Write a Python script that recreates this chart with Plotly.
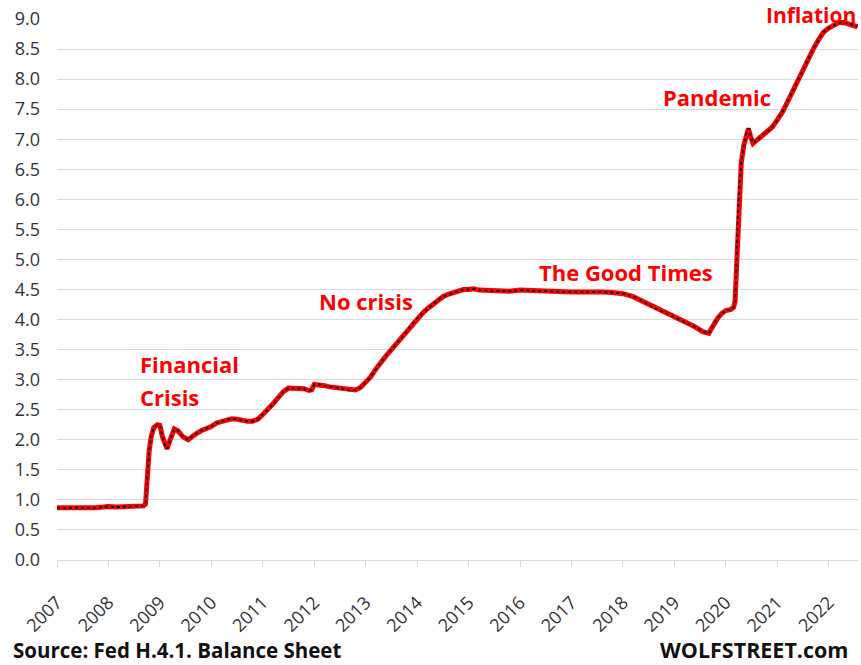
import plotly.graph_objects as go

# Fed balance sheet, trillion $
years = [
    2007.00, 2007.15, 2007.30, 2007.45, 2007.60, 2007.75, 2007.90, 2008.00, 2008.15, 2008.30,
    2008.45, 2008.60, 2008.68, 2008.72, 2008.74, 2008.76, 2008.79, 2008.83, 2008.88, 2008.95,
    2009.00, 2009.05, 2009.10, 2009.14, 2009.20, 2009.28, 2009.35, 2009.45, 2009.55, 2009.62,
    2009.70, 2009.80, 2009.90, 2010.00, 2010.10, 2010.20, 2010.30, 2010.40, 2010.50, 2010.60,
    2010.70, 2010.80, 2010.90, 2011.00, 2011.10, 2011.20, 2011.30, 2011.40, 2011.50, 2011.60,
    2011.70, 2011.80, 2011.90, 2011.95, 2012.00, 2012.10, 2012.20, 2012.30, 2012.40, 2012.50,
    2012.60, 2012.70, 2012.80, 2012.90, 2013.00, 2013.10, 2013.20, 2013.30, 2013.40, 2013.50,
    2013.60, 2013.70, 2013.80, 2013.90, 2014.00, 2014.10, 2014.20, 2014.30, 2014.40, 2014.50,
    2014.60, 2014.70, 2014.80, 2014.90, 2015.00, 2015.10, 2015.20, 2015.40, 2015.60, 2015.80,
    2016.00, 2016.20, 2016.40, 2016.60, 2016.80, 2017.00, 2017.20, 2017.40, 2017.60, 2017.80,
    2018.00, 2018.20, 2018.40, 2018.60, 2018.80, 2019.00, 2019.20, 2019.40, 2019.55, 2019.67,
    2019.72, 2019.78, 2019.85, 2019.92, 2020.00, 2020.10, 2020.15, 2020.18, 2020.20, 2020.22,
    2020.24, 2020.27, 2020.30, 2020.35, 2020.40, 2020.44, 2020.48, 2020.53, 2020.60, 2020.70,
    2020.80, 2020.90, 2021.00, 2021.10, 2021.20, 2021.30, 2021.40, 2021.50, 2021.60, 2021.70,
    2021.80, 2021.90, 2022.00, 2022.10, 2022.20, 2022.30, 2022.40, 2022.50, 2022.56,
]
balance = [
    0.87, 0.86, 0.87, 0.87, 0.86, 0.87, 0.88, 0.89, 0.88, 0.89,
    0.89, 0.90, 0.90, 0.93, 1.20, 1.50, 1.80, 2.05, 2.20, 2.25,
    2.24, 2.05, 1.90, 1.85, 2.00, 2.18, 2.15, 2.05, 2.00, 2.05,
    2.10, 2.15, 2.18, 2.22, 2.28, 2.30, 2.34, 2.35, 2.34, 2.32,
    2.31, 2.31, 2.34, 2.42, 2.50, 2.60, 2.70, 2.80, 2.86, 2.86,
    2.86, 2.85, 2.82, 2.83, 2.92, 2.92, 2.90, 2.88, 2.87, 2.86,
    2.84, 2.82, 2.83, 2.87, 2.95, 3.05, 3.18, 3.30, 3.40, 3.50,
    3.60, 3.70, 3.80, 3.92, 4.02, 4.10, 4.18, 4.25, 4.32, 4.38,
    4.42, 4.45, 4.48, 4.50, 4.50, 4.51, 4.49, 4.48, 4.48, 4.47,
    4.49, 4.48, 4.47, 4.47, 4.46, 4.46, 4.46, 4.47, 4.46, 4.45,
    4.43, 4.38, 4.30, 4.20, 4.12, 4.05, 3.97, 3.88, 3.80, 3.77,
    3.85, 3.95, 4.03, 4.10, 4.15, 4.17, 4.20, 4.30, 4.70, 5.30,
    5.85, 6.30, 6.60, 6.90, 7.10, 7.18, 7.05, 6.93, 6.98, 7.05,
    7.12, 7.20, 7.32, 7.45, 7.62, 7.80, 7.97, 8.15, 8.32, 8.50,
    8.65, 8.78, 8.85, 8.90, 8.94, 8.94, 8.92, 8.90, 8.87,
]

tick_years = list(range(2007, 2023))
tick_labels = [str(y) for y in tick_years]
y_ticks = [i * 0.5 for i in range(19)]

labels = ["Pandemic", "The Good Times", "No crisis", "Financial", "Crisis"]
label_x = [2018.74, 2016.33, 2012.05, 2008.57, 2008.57]
label_y = [7.70, 4.79, 4.31, 3.26, 2.71]

W, H = 861, 665
L, R, T, B = 57, 3, 19, 105
PW, PH = W - L - R, H - T - B


def px(xp):
    return (xp - L) / PW


def py(yp):
    return (H - B - yp) / PH


fig = go.Figure()
fig.add_trace(go.Scatter(x=years, y=balance, mode="lines",
                         line=dict(color="#ff0000", width=5), hoverinfo="skip",
                         showlegend=False))
fig.add_trace(go.Scatter(x=years, y=balance, mode="lines",
                         line=dict(color="#111111", width=2, dash="dot"),
                         showlegend=False))

red_font = dict(family="Open Sans", size=22, color="#ff0000")
for t, x, y in zip(labels, label_x, label_y):
    fig.add_annotation(x=x, y=y, xref="x", yref="y", text="<b>%s</b>" % t,
                       showarrow=False, xanchor="left", yanchor="middle",
                       font=red_font)
fig.add_annotation(x=px(764), y=py(15), xref="paper", yref="paper",
                   text="<b>Inflation</b>", showarrow=False,
                   xanchor="left", yanchor="middle",
                   font=dict(family="Open Sans", size=21, color="#ff0000"))

fig.add_annotation(x=px(11), y=py(650), xref="paper", yref="paper",
                   text="<b>Source: Fed H.4.1. Balance Sheet</b>", showarrow=False,
                   xanchor="left", yanchor="middle",
                   font=dict(family="Open Sans", size=20.5, color="#111111"))
fig.add_annotation(x=px(850), y=py(650), xref="paper", yref="paper",
                   text="<b>WOLFSTREET.com</b>", showarrow=False,
                   xanchor="right", yanchor="middle",
                   font=dict(family="Open Sans", size=21.5, color="#111111"))

fig.update_layout(
    width=W, height=H,
    margin=dict(l=L, r=R, t=T, b=B),
    paper_bgcolor="white", plot_bgcolor="white",
    font=dict(family="Open Sans", size=18, color="#333333"),
    xaxis=dict(range=[2007, 2022.57], tickmode="array", tickvals=tick_years,
               ticktext=tick_labels, tickangle=-45, showgrid=False,
               showline=True, linecolor="#d9d9d9", linewidth=1,
               ticks="outside", ticklen=6, tickcolor="#d9d9d9",
               zeroline=False, tickfont=dict(size=18),
               ticklabelstandoff=18),
    yaxis=dict(range=[0, 9.0], tickmode="array", tickvals=y_ticks,
               tickformat=".1f", showgrid=True, gridcolor="#d9d9d9",
               gridwidth=1, zeroline=False, showline=False,
               ticklabelstandoff=16, tickfont=dict(size=18)),
)

fig.write_html("out.html", config={"displayModeBar": False},
               post_script="document.body.style.margin='0px';")
